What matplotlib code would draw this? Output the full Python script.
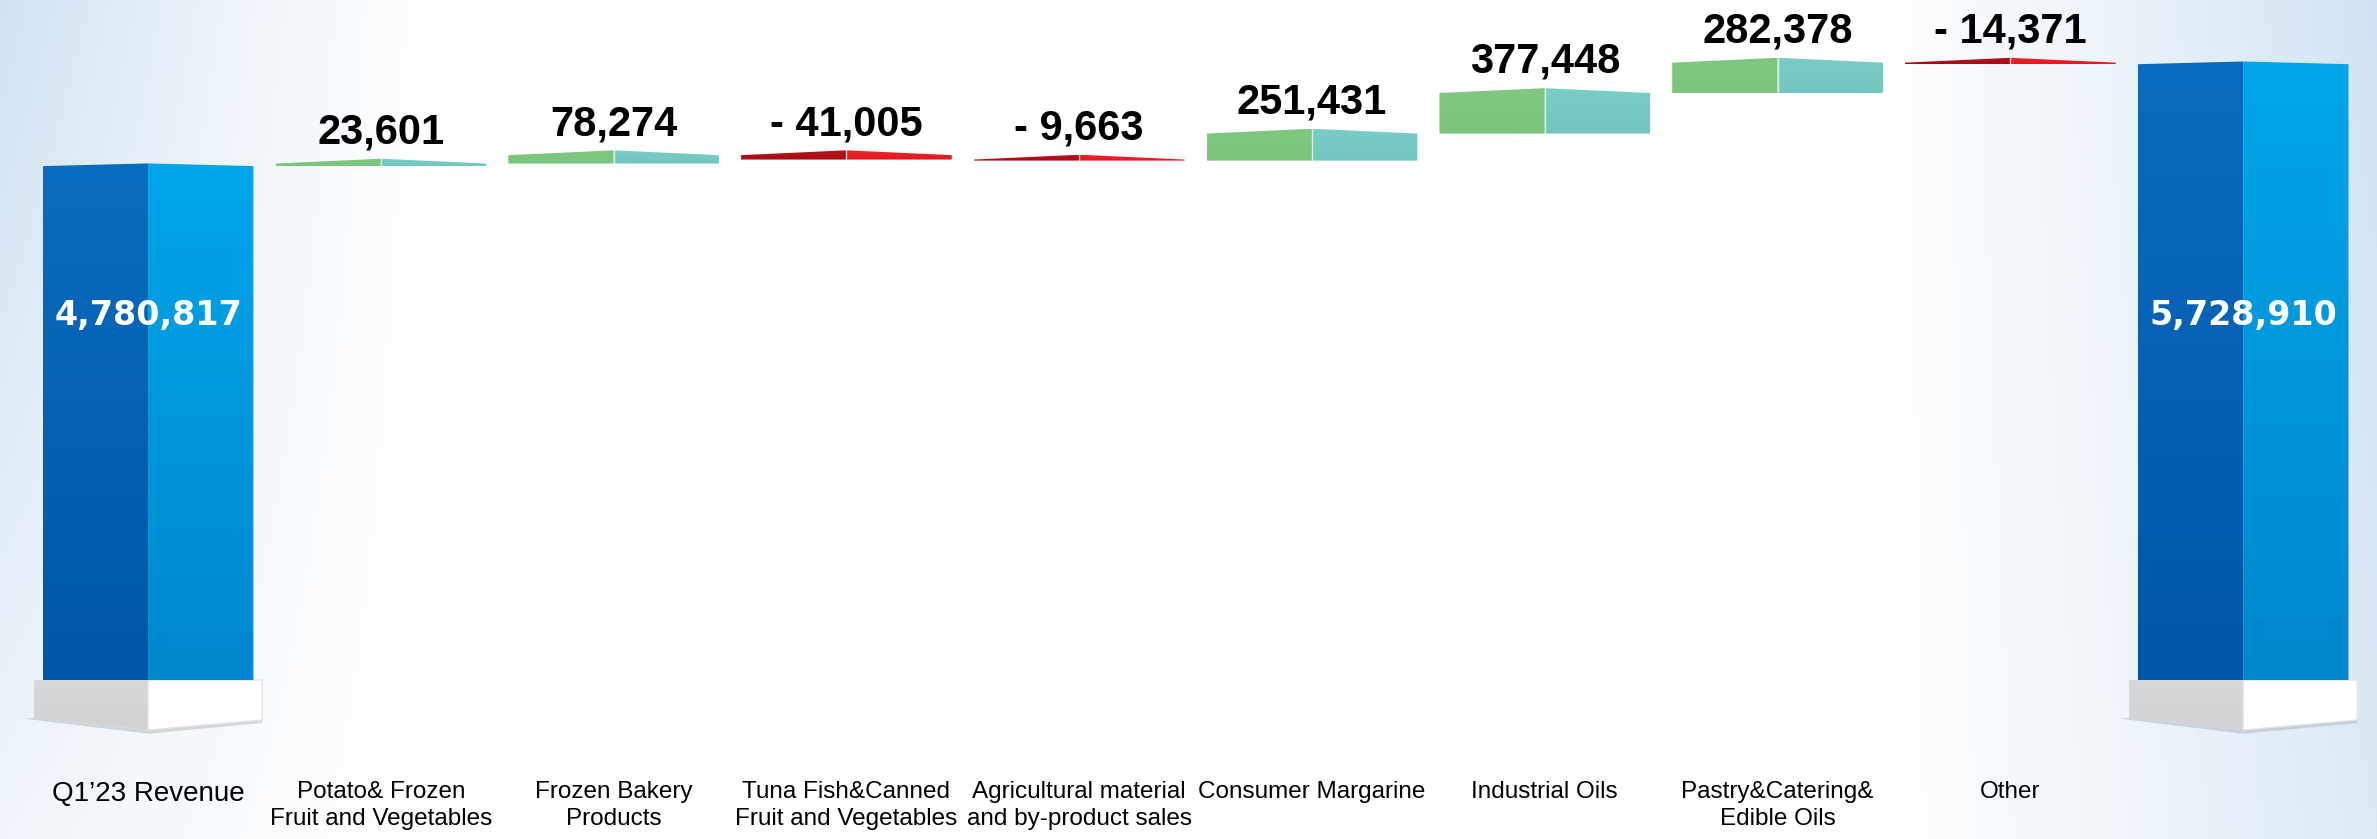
import numpy as np
import matplotlib.pyplot as plt
from matplotlib.patches import Polygon
from matplotlib.colors import LinearSegmentedColormap

# revenue bridge, Q1'23 -> Q1'24
categories = ["Q1\u201923 Revenue",
              "Potato& Frozen\nFruit and Vegetables",
              "Frozen Bakery\nProducts",
              "Tuna Fish&Canned\nFruit and Vegetables",
              "Agricultural material\nand by-product sales",
              "Consumer Margarine",
              "Industrial Oils",
              "Pastry&Catering&\nEdible Oils",
              "Other",
              ""]
opening = 4780817
closing = 5728910
changes = [23601, 78274, -41005, -9663, 251431, 377448, 282378, -14371]

W = 0.905          # bar width in category units
ROOF = 45000       # height of the perspective ridge on each block
BLUE_ROOF = 25000


def face(ax, pts, c_top, c_bot, z=3):
    poly = Polygon(pts, closed=True, facecolor='none', edgecolor='none', zorder=z)
    ax.add_patch(poly)
    xs = [p[0] for p in pts]
    ys = [p[1] for p in pts]
    cmap = LinearSegmentedColormap.from_list('f', [c_bot, c_top])
    grad = np.linspace(0, 1, 256).reshape(-1, 1)
    im = ax.imshow(grad, cmap=cmap, origin='lower', aspect='auto',
                   extent=(min(xs), max(xs), min(ys), max(ys)),
                   interpolation='bilinear', zorder=z)
    im.set_clip_path(poly)


def block(ax, xc, y0, y1, left, right, roof, divider=True):
    lo, hi = min(y0, y1), max(y0, y1)
    h = W / 2
    face(ax, [(xc - h, lo), (xc, lo), (xc, hi + roof), (xc - h, hi)], *left)
    face(ax, [(xc, lo), (xc + h, lo), (xc + h, hi), (xc, hi + roof)], *right)
    if divider:
        ax.plot([xc, xc], [lo, hi + roof], color='white', lw=1.0, alpha=0.7, zorder=4)


def pedestal(ax, xc):
    pw = 0.49
    # soft shadow underneath
    ax.add_patch(Polygon([(xc - pw - 0.04, -0.36e6), (xc, -0.50e6), (xc + pw, -0.40e6),
                          (xc + pw, -0.37e6), (xc, -0.465e6), (xc - pw, -0.353e6)],
                         closed=True, facecolor='#8C99A6', edgecolor='none', alpha=0.35, zorder=2))
    face(ax, [(xc - pw, 0.0), (xc, 0.0), (xc, -0.465e6), (xc - pw, -0.353e6)],
         '#D6D8DA', '#D0D2D4', z=3)
    ax.add_patch(Polygon([(xc, 0.0), (xc + pw, 0.0), (xc + pw, -0.372e6), (xc, -0.465e6)],
                         closed=True, facecolor='white', edgecolor='#E2E4E6', lw=1.0, zorder=3))


fig = plt.figure(figsize=(23.77, 8.39), dpi=100)
ax = fig.add_axes([0, 0, 1, 1])

x = np.arange(len(categories))
xlim = (-0.636, 9.575)
ylim = (-1.479e6, 6.326e6)

# pale blue wash at both sides of the slide
gx = np.linspace(0, 1, 600)
gy = np.linspace(0, 1, 200)[:, None]
left_w = np.clip(1 - gx / 0.2, 0, 1) ** 1.4 * (0.35 + 0.65 * (1 - gy))
right_w = np.clip((gx - 0.78) / 0.22, 0, 1) ** 1.2 * (0.75 + 0.25 * (1 - gy))
wash = np.clip(left_w + right_w, 0, 1)
edge = np.array([0.82, 0.89, 0.95])
img = 1 - wash[..., None] * (1 - edge)
ax.imshow(img, extent=(xlim[0], xlim[1], ylim[0], ylim[1]), origin='upper',
          aspect='auto', zorder=0, interpolation='bilinear')

# opening and closing totals
blue_left = ('#0A6CC0', '#0056A6')
blue_right = ('#00A6EA', '#0087CE')
for xi, total in [(x[0], opening), (x[-1], closing)]:
    pedestal(ax, xi)
    block(ax, xi, 0, total, blue_left, blue_right, BLUE_ROOF, divider=False)
    ax.text(xi, 0.71 * opening, f"{total:,}", ha='center', va='center',
            color='white', fontsize=24, fontweight='bold', family='DejaVu Sans', zorder=6)

# the movements between them
levels = opening + np.cumsum(changes)
prev = np.concatenate([[opening], levels[:-1]])
for i, (d, a, b) in enumerate(zip(changes, prev, levels)):
    xi = x[i + 1]
    if d >= 0:
        block(ax, xi, a, b, ('#80C880', '#7CC47D'), ('#7ACDC6', '#72C6BF'), ROOF)
    else:
        block(ax, xi, a, b, ('#B8121C', '#A40E17'), ('#EC2229', '#E01A22'), ROOF)
    lab = f"{d:,}" if d >= 0 else f"- {abs(d):,}"
    ax.annotate(lab, (xi, max(a, b) + ROOF), xytext=(0, 11), textcoords='offset points',
                ha='center', va='baseline', fontsize=30, fontweight='bold',
                family='Liberation Sans', color='black', zorder=6)

# category names
for xi, name in zip(x, categories):
    size = 20 if xi == 0 else 17.5
    ax.text(xi, -0.94e6, name, ha='center', va='top', fontsize=size,
            family='Liberation Sans', color='black', linespacing=1.3, zorder=6)

ax.set_xlim(*xlim)
ax.set_ylim(*ylim)
ax.axis('off')

fig.savefig('out.png', dpi=100)
